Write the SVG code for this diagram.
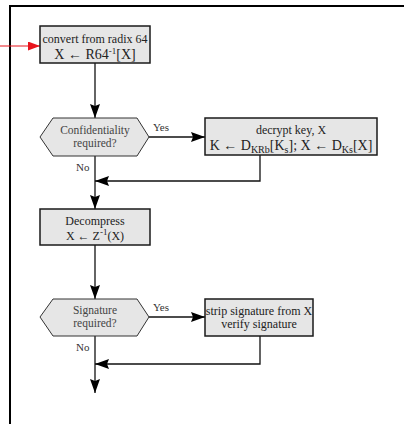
<svg xmlns="http://www.w3.org/2000/svg" width="404" height="424" viewBox="0 0 404 424">
<defs>
<style>
.box{fill:#e6e6e6;stroke:#1a1a1a;stroke-width:1.5}
.hex{fill:#e6e6e6;stroke:#333;stroke-width:1}
.ln{fill:none;stroke:#111;stroke-width:1.3}
.t{font-family:"Liberation Serif","Times New Roman",serif;font-size:12px;fill:#222;text-anchor:middle}
.h{font-family:"Liberation Serif","Times New Roman",serif;font-size:11.5px;fill:#444;text-anchor:middle}
.lbl{font-family:"Liberation Serif","Times New Roman",serif;font-size:11px;fill:#333}
.big{font-size:14px}
</style>
<marker id="ah" markerUnits="userSpaceOnUse" markerWidth="14" markerHeight="10" refX="14" refY="5" orient="auto">
<path d="M0,0 L14,5 L0,10 L2,5 z" fill="#000"/>
</marker>
<marker id="ahr" markerUnits="userSpaceOnUse" markerWidth="12" markerHeight="9" refX="12" refY="4.5" orient="auto">
<path d="M0,0 L12,4.5 L0,9 z" fill="#e8141c"/>
</marker>
</defs>
<g id="frame">
<path d="M10,424 V6 H404" fill="none" stroke="#000" stroke-width="2"/>
</g>
<g id="connectors">
<line x1="0" y1="46" x2="40" y2="46" stroke="#e8141c" stroke-width="1.2" marker-end="url(#ahr)"/>
<line class="ln" x1="95" y1="63" x2="95" y2="118" marker-end="url(#ah)"/>
<line class="ln" x1="149" y1="137" x2="205" y2="137" marker-end="url(#ah)"/>
<line class="ln" x1="95" y1="156" x2="95" y2="209" marker-end="url(#ah)"/>
<polyline class="ln" points="260,155 260,181 95,181" marker-end="url(#ah)"/>
<line class="ln" x1="95" y1="245" x2="95" y2="299" marker-end="url(#ah)"/>
<line class="ln" x1="149" y1="317" x2="205" y2="317" marker-end="url(#ah)"/>
<line class="ln" x1="95" y1="336" x2="95" y2="393" marker-end="url(#ah)"/>
<polyline class="ln" points="260,336 260,364 95,364" marker-end="url(#ah)"/>
<text class="lbl" x="153" y="131">Yes</text>
<text class="lbl" x="76" y="171">No</text>
<text class="lbl" x="153" y="311">Yes</text>
<text class="lbl" x="76" y="351">No</text>
</g>
<g id="convert">
<rect class="box" x="40" y="26" width="110" height="37"/>
<text class="t" x="95" y="43">convert from radix 64</text>
<text class="t" x="95" y="59"><tspan class="big">X ← R64</tspan><tspan font-size="9" dy="-5">-1</tspan><tspan class="big" dy="5">[X]</tspan></text>
</g>
<g id="confidentiality">
<polygon class="hex" points="40,137 53,118 137,118 149,137 137,156 53,156"/>
<text class="h" x="95" y="134">Confidentiality</text>
<text class="h" x="95" y="147">required?</text>
</g>
<g id="decrypt">
<rect class="box" x="205" y="118" width="172" height="37"/>
<text class="t" x="291" y="134">decrypt key, X</text>
<text class="t big" x="291" y="150">K ← D<tspan font-size="10" dy="3">KRb</tspan><tspan dy="-3">[K</tspan><tspan font-size="10" dy="3">s</tspan><tspan dy="-3">]; X ← D</tspan><tspan font-size="10" dy="3">Ks</tspan><tspan dy="-3">[X]</tspan></text>
</g>
<g id="decompress">
<rect class="box" x="40" y="209" width="110" height="36"/>
<text class="t" x="95" y="225">Decompress</text>
<text class="t" x="95" y="240">X ← Z<tspan font-size="9" dy="-5">-1</tspan><tspan dy="5">(X)</tspan></text>
</g>
<g id="signature">
<polygon class="hex" points="40,317 53,299 137,299 149,317 137,336 53,336"/>
<text class="h" x="95" y="314">Signature</text>
<text class="h" x="95" y="327">required?</text>
</g>
<g id="strip">
<rect class="box" x="205" y="299" width="108" height="37"/>
<text class="t" x="259" y="315">strip signature from X</text>
<text class="t" x="259" y="328">verify signature</text>
</g>
</svg>
